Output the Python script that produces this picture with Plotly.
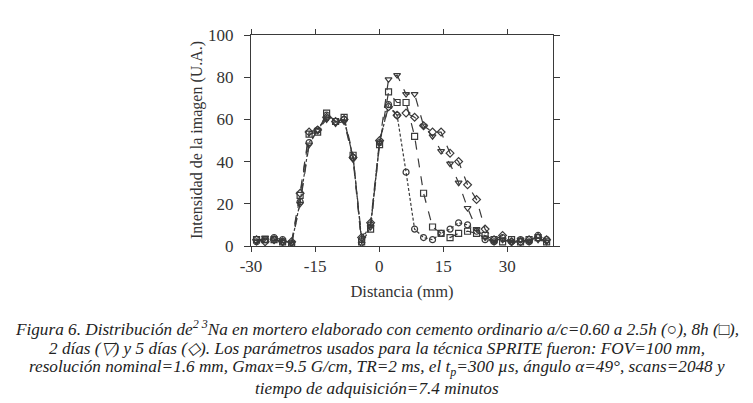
import plotly.graph_objects as go

# Distance (mm) of each sampled point along the profile
distancia = [-28.7, -26.7, -24.6, -22.6, -20.5, -18.5, -16.4, -14.4, -12.3, -10.2,
             -8.2, -6.1, -4.1, -2.0, 0.1, 2.2, 4.2, 6.3, 8.3, 10.4, 12.5, 14.5,
             16.6, 18.6, 20.7, 22.8, 24.8, 26.9, 28.9, 31.0, 33.1, 35.1, 37.2, 39.2]

# Image intensity (a.u.) for each exposure time
h2_5 = [2, 3, 4, 3, 1, 21, 49, 55, 62, 59, 60, 42, 3, 10, 49,
        67, 62, 35, 8, 4, 3, 6, 8, 11, 10, 7, 3, 2, 4, 2, 3, 2, 5, 3]
h8 = [3, 3, 3, 2, 1, 24, 53, 54, 63, 59, 61, 43, 2, 8, 48,
      73, 68, 68, 52, 25, 9, 6, 4, 6, 7, 6, 5, 3, 2, 3, 2, 3, 4, 2]
dias2 = [2, 4, 3, 2, 1, 20, 48, 55, 60, 58, 59, 41, 1, 9, 49,
         79, 81, 72, 72, 57, 52, 45, 39, 30, 18, 8, 4, 2, 3, 2, 3, 2, 3, 2]
dias5 = [3, 2, 3, 2, 2, 25, 54, 55, 61, 59, 60, 42, 4, 11, 50,
         66, 62, 63, 61, 57, 54, 54, 44, 40, 29, 22, 8, 3, 5, 2, 2, 3, 4, 3]

x_ticks = [-30, -15, 0, 15, 30]
x_ticktext = ["-30", "-15", "0", "15", "30"]

series = [
    ("2.5h", h2_5, "circle-open", "3px,2px"),
    ("8h", h8, "square-open", "dash"),
    ("2 días", dias2, "triangle-down-open", "dash"),
    ("5 días", dias5, "diamond-open", "dash"),
]

caption_lines = [
    "Figura 6. Distribución de<sup>2 3</sup>Na en mortero elaborado con cemento ordinario "
    "a/c=0.60 a 2.5h (○), 8h (□),",
    "2 días (▽) y 5 días (◇). Los parámetros usados para la técnica SPRITE fueron: FOV=100 mm,",
    "resolución nominal=1.6 mm, Gmax=9.5 G/cm, TR=2 ms, el t<sub>p</sub>=300 µs, ángulo α=49°, "
    "scans=2048 y",
    "tiempo de adquisición=7.4 minutos",
]

ink = "#3a3a3a"
serif = "Liberation Serif"

# the page body adds an 8px offset, so the figure is laid out 8px up/left
off = 8
plot_left, plot_top, plot_w, plot_h = 251 - off, 35 - off, 302, 211

fig = go.Figure()

for name, vals, symbol, dash in series:
    fig.add_trace(
        go.Scatter(
            x=distancia,
            y=vals,
            mode="lines+markers",
            name=name,
            line=dict(color=ink, width=1.2, dash=dash),
            marker=dict(symbol=symbol, size=6, color=ink, line=dict(width=1.2, color=ink)),
            showlegend=False,
        )
    )

# caption, one annotation per line
for i, line in enumerate(caption_lines):
    ypix = 328 - off + 20 * i
    fig.add_annotation(
        text="<i>" + line + "</i>",
        xref="paper",
        yref="paper",
        x=(377 - off - plot_left) / plot_w,
        y=1 - (ypix - plot_top) / plot_h,
        xanchor="center",
        yanchor="middle",
        showarrow=False,
        font=dict(family=serif, size=17.2, color="#222"),
    )

# y axis title placed by hand
fig.add_annotation(
    text="Intensidad de la imagen (U.A.)",
    textangle=-90,
    xref="paper",
    yref="paper",
    x=(197 - off - plot_left) / plot_w,
    y=1 - (140 - 35) / plot_h,
    xanchor="center",
    yanchor="middle",
    showarrow=False,
    font=dict(family=serif, size=16, color="#333"),
)

W, H = 753 - off, 403 - off
fig.update_layout(
    width=W,
    height=H,
    margin=dict(l=plot_left, r=W - plot_left - plot_w, t=plot_top, b=H - plot_top - plot_h),
    paper_bgcolor="white",
    plot_bgcolor="white",
    font=dict(family=serif, size=17, color="#333"),
    xaxis=dict(
        range=[-30, 40.7],
        tickvals=x_ticks,
        ticktext=x_ticktext,
        ticks="outside",
        ticklen=5,
        tickcolor=ink,
        showline=True,
        linecolor=ink,
        mirror="ticks",
        showgrid=False,
        zeroline=False,
        automargin=False,
        title=dict(text="Distancia (mm)", standoff=10, font=dict(size=16.5)),
    ),
    yaxis=dict(
        range=[0, 100],
        dtick=20,
        ticks="outside",
        ticklen=6,
        ticklabelstandoff=7,
        tickcolor=ink,
        showline=True,
        linecolor=ink,
        mirror="ticks",
        showgrid=False,
        zeroline=False,
        automargin=False,
    ),
)

fig.write_html("out.html")
